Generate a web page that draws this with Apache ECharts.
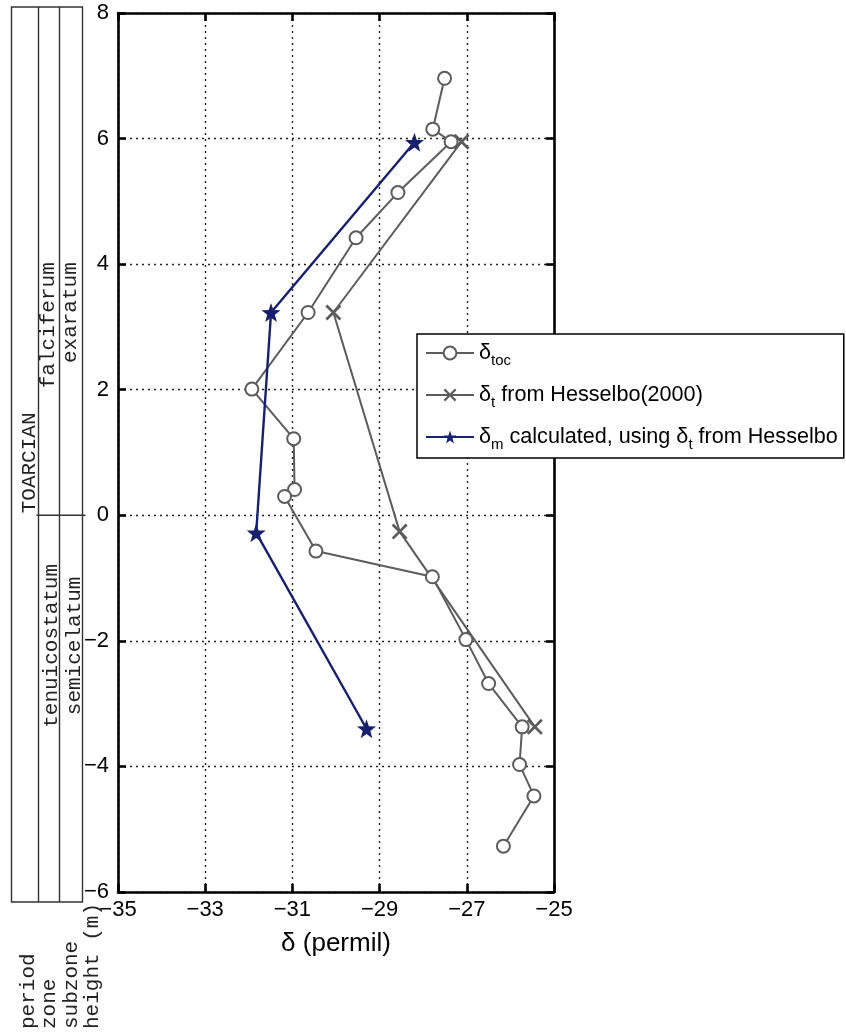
<!DOCTYPE html>
<html>
<head>
<meta charset="utf-8">
<script src="https://cdn.jsdelivr.net/npm/echarts@6/dist/echarts.min.js"></script>
<style>
  html, body { margin: 0; padding: 0; background: #fff; }
  #chart { width: 846px; height: 1034px; }
</style>
</head>
<body>
<div id="chart"></div>
<script>
// Carbon isotope profile: delta (permil) against stratigraphic height (m)

// delta_toc measurements
const tocDelta  = [-27.51, -27.78, -27.36, -28.58, -29.54, -30.64, -31.93, -30.97, -30.95,
                   -31.18, -30.46, -27.79, -27.02, -26.50, -25.73, -25.79, -25.46, -26.16];
const tocHeight = [6.96, 6.15, 5.95, 5.14, 4.42, 3.23, 2.01, 1.22, 0.41,
                   0.30, -0.57, -0.98, -1.98, -2.68, -3.37, -3.97, -4.47, -5.27];

// delta_t from Hesselbo (2000)
const tDelta  = [-27.12, -30.06, -28.54, -25.44];
const tHeight = [5.95, 3.23, -0.26, -3.37];

// delta_m calculated from delta_t
const mDelta  = [-28.20, -31.49, -31.83, -29.30];
const mHeight = [5.94, 3.23, -0.28, -3.40];

// axis ranges and tick steps
const xRange = [-35, -25];
const xStep = 2;
const yRange = [-6, 8];
const yStep = 2;

const seriesNames = ['toc', 't', 'm'];
const legendTexts = {
  toc: '{b|δ}{s|toc}',
  t:   '{b|δ}{s|t}{b| from Hesselbo(2000)}',
  m:   '{b|δ}{s|m}{b| calculated, using δ}{s|t}{b| from Hesselbo}'
};

// stratigraphic column
const columnHeaders = ['period', 'zone', 'subzone', 'height (m)'];
const periodLabel = 'TOARCIAN';
const upperZone = 'falciferum';
const upperSubzone = 'exaratum';
const lowerZone = 'tenuicostatum';
const lowerSubzone = 'semicelatum';
const stageBoundary = 0;      // height (m) of the zone boundary
const upperLabelTop = 4.03;   // height where upper zone names end
const lowerLabelMid = -2.08;  // height where lower zone names are centred

const zip = (xs, ys) => xs.map((x, i) => [x, ys[i]]);

function starPath() {
  const pts = [];
  for (let i = 0; i < 10; i++) {
    const r = (i % 2 ? 0.40 : 1) * 50;
    const a = -Math.PI / 2 + i * Math.PI / 5;
    pts.push((50 + r * Math.cos(a)).toFixed(2) + ',' + (50 + r * Math.sin(a)).toFixed(2));
  }
  return 'path://M' + pts.join('L') + 'Z';
}
const crossPath = 'path://M1.2,0L5,3.8L8.8,0L10,1.2L6.2,5L10,8.8L8.8,10L5,6.2L1.2,10L0,8.8L3.8,5L0,1.2Z';

const GRAY = '#5c5c5c';
const NAVY = '#16206e';
const SANS = '"Liberation Sans", Arial, sans-serif';
const MONO = '"Liberation Mono", "Courier New", monospace';

const minusFmt = v => String(v).replace('-', '\u2212');

const gridLine = { show: true, lineStyle: { color: '#222', width: 1.4, type: [2, 4] } };
const frameAxis = {
  axisLine: { show: true, onZero: false, lineStyle: { color: '#000', width: 2.6 } },
  axisTick: { show: true, inside: true, length: 8, lineStyle: { color: '#000', width: 2.6 } }
};

const chart = echarts.init(document.getElementById('chart'), null, { renderer: 'canvas' });

chart.setOption({
  animation: false,
  backgroundColor: '#fff',
  grid: { left: 118, right: 292, top: 13, bottom: 142 },
  xAxis: [
    Object.assign({
      type: 'value', min: xRange[0], max: xRange[1], interval: xStep, position: 'bottom',
      name: 'δ (permil)', nameLocation: 'middle', nameGap: 39,
      nameTextStyle: { fontFamily: SANS, fontSize: 26, color: '#000' },
      axisLabel: { fontFamily: SANS, fontSize: 22, color: '#000', margin: 7, formatter: minusFmt },
      splitLine: gridLine
    }, frameAxis),
    Object.assign({
      type: 'value', min: xRange[0], max: xRange[1], interval: xStep, position: 'top',
      axisLabel: { show: false }, splitLine: { show: false }
    }, frameAxis)
  ],
  yAxis: [
    Object.assign({
      type: 'value', min: yRange[0], max: yRange[1], interval: yStep, position: 'left',
      axisLabel: { fontFamily: SANS, fontSize: 22, color: '#000', margin: 9, formatter: minusFmt },
      splitLine: gridLine
    }, frameAxis),
    Object.assign({
      type: 'value', min: yRange[0], max: yRange[1], interval: yStep, position: 'right',
      axisLabel: { show: false }, splitLine: { show: false }
    }, frameAxis)
  ],
  legend: {
    data: seriesNames,
    orient: 'vertical',
    left: 417, top: 334,
    padding: [4, 6, 6, 8],
    itemGap: 12,
    itemWidth: 48, itemHeight: 16,
    backgroundColor: '#fff',
    borderColor: '#000', borderWidth: 1.5,
    formatter: name => legendTexts[name],
    textStyle: {
      fontFamily: SANS, fontSize: 21.6, color: '#000', lineHeight: 30,
      rich: {
        b: { fontFamily: SANS, fontSize: 21.6, color: '#000', lineHeight: 30 },
        s: { fontFamily: SANS, fontSize: 15, color: '#000', lineHeight: 15, verticalAlign: 'bottom' }
      }
    }
  },
  series: [
    {
      name: 'toc', type: 'line', data: zip(tocDelta, tocHeight),
      symbol: 'emptyCircle', symbolSize: 13,
      lineStyle: { color: GRAY, width: 2 },
      itemStyle: { color: GRAY, borderColor: GRAY, borderWidth: 2 }, z: 3
    },
    {
      name: 't', type: 'line', data: zip(tDelta, tHeight),
      symbol: crossPath, symbolSize: 16,
      lineStyle: { color: GRAY, width: 2 },
      itemStyle: { color: GRAY }, z: 2
    },
    {
      name: 'm', type: 'line', data: zip(mDelta, mHeight),
      symbol: starPath(), symbolSize: 19,
      lineStyle: { color: NAVY, width: 2.4 },
      itemStyle: { color: NAVY }, z: 4
    }
  ]
});

// stratigraphic column drawn to the left of the plot, aligned to the height axis
function drawColumn() {
  const yPix = h => chart.convertToPixel({ yAxisIndex: 0 }, h);
  const top = 7, bottom = 902;
  const cols = [11.5, 38.5, 59.5, 82.5];
  const stroke = { stroke: '#333', lineWidth: 1.4, fill: null };
  const colText = (text, x, y, align) => ({
    type: 'text', x: x, y: y, rotation: Math.PI / 2,
    style: { text: text, fontFamily: MONO, fontSize: 21, fill: '#222', align: align, verticalAlign: 'middle' }
  });
  const yb = yPix(stageBoundary);
  const elements = [
    { type: 'rect', shape: { x: cols[0], y: top, width: cols[3] - cols[0], height: bottom - top }, style: stroke },
    { type: 'line', shape: { x1: cols[1], y1: top, x2: cols[1], y2: bottom }, style: stroke },
    { type: 'line', shape: { x1: cols[2], y1: top, x2: cols[2], y2: bottom }, style: stroke },
    { type: 'line', shape: { x1: cols[1] - 2, y1: yb, x2: cols[3] + 3, y2: yb }, style: stroke },
    colText(periodLabel, 29.4, yb - 2, 'left'),
    colText(upperZone, 48.4, yPix(upperLabelTop), 'right'),
    colText(upperSubzone, 70.4, yPix(upperLabelTop), 'right'),
    colText(lowerZone, 51.4, yPix(lowerLabelMid), 'center'),
    colText(lowerSubzone, 74.4, yPix(lowerLabelMid), 'center'),
    {
      type: 'text', x: 17.5, y: 1029, rotation: Math.PI / 2,
      style: {
        text: columnHeaders.join('\n'), fontFamily: MONO, fontSize: 21, lineHeight: 21.5,
        fill: '#222', align: 'left', verticalAlign: 'top'
      }
    }
  ];
  chart.setOption({ graphic: { elements: elements } });
}
drawColumn();
</script>
</body>
</html>
